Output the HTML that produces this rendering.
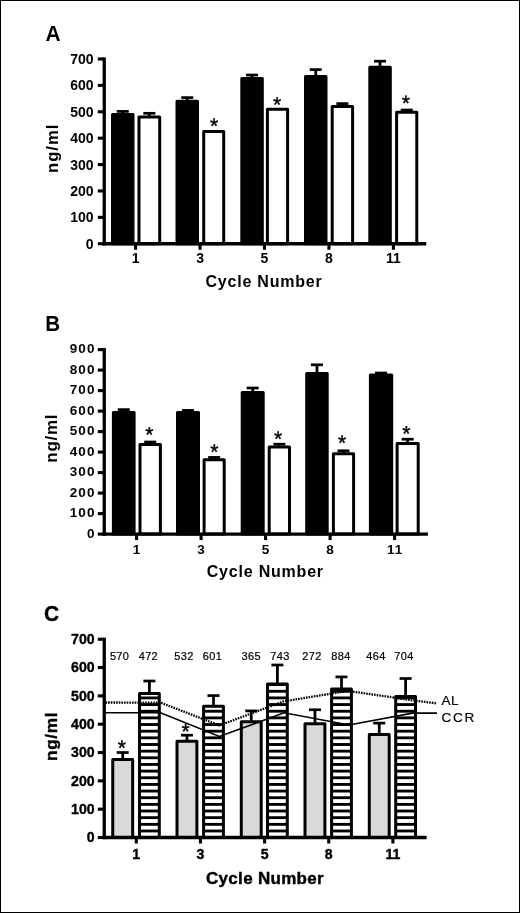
<!DOCTYPE html>
<html lang="en"><head><meta charset="utf-8"><title>Figure</title>
<style>html,body{margin:0;padding:0;background:#fff}body{width:520px;height:913px;overflow:hidden}svg{display:block}text{font-family:"Liberation Sans", sans-serif;fill:#000}#panelC text[font-weight="bold"]{stroke:#000;stroke-width:.4px}#panelC text[font-weight="normal"]{stroke:#000;stroke-width:.2px}</style></head><body>
<svg width="520" height="913" viewBox="0 0 520 913">
<defs><pattern id="hs" x="0" y="4.58" width="10" height="6.653" patternUnits="userSpaceOnUse"><rect x="0" y="0" width="10" height="2.85" fill="#000"/></pattern></defs>
<rect x="0" y="0" width="520" height="913" fill="#fff"/>
<rect x="0.5" y="0.5" width="519" height="912" fill="none" stroke="#000" stroke-width="1"/>
<g id="panelA">
<line x1="122.75" y1="111.4" x2="122.75" y2="114.1" stroke="#000" stroke-width="2.8" />
<line x1="116.75" y1="111.4" x2="128.75" y2="111.4" stroke="#000" stroke-width="2.7" />
<rect x="112.5" y="114.6" width="20.5" height="129.15" fill="#000" stroke="#000" stroke-width="3" stroke-linejoin="round"/>
<line x1="149.35" y1="113.3" x2="149.35" y2="116.6" stroke="#000" stroke-width="2.8" />
<line x1="143.35" y1="113.3" x2="155.35" y2="113.3" stroke="#000" stroke-width="2.7" />
<rect x="139" y="117.1" width="20.7" height="126.65" fill="#fff" stroke="#000" stroke-width="3" stroke-linejoin="round"/>
<line x1="187.25" y1="97.6" x2="187.25" y2="100.8" stroke="#000" stroke-width="2.8" />
<line x1="181.25" y1="97.6" x2="193.25" y2="97.6" stroke="#000" stroke-width="2.7" />
<rect x="177" y="101.3" width="20.5" height="142.45" fill="#000" stroke="#000" stroke-width="3" stroke-linejoin="round"/>
<rect x="203.7" y="131.5" width="20" height="112.25" fill="#fff" stroke="#000" stroke-width="3" stroke-linejoin="round"/>
<line x1="252.05" y1="75" x2="252.05" y2="77.9" stroke="#000" stroke-width="2.8" />
<line x1="246.05" y1="75" x2="258.05" y2="75" stroke="#000" stroke-width="2.7" />
<rect x="241.8" y="78.4" width="20.5" height="165.35" fill="#000" stroke="#000" stroke-width="3" stroke-linejoin="round"/>
<rect x="267.4" y="109.3" width="20.2" height="134.45" fill="#fff" stroke="#000" stroke-width="3" stroke-linejoin="round"/>
<line x1="315.75" y1="69.6" x2="315.75" y2="75.9" stroke="#000" stroke-width="2.8" />
<line x1="309.75" y1="69.6" x2="321.75" y2="69.6" stroke="#000" stroke-width="2.7" />
<rect x="305.5" y="76.4" width="20.5" height="167.35" fill="#000" stroke="#000" stroke-width="3" stroke-linejoin="round"/>
<line x1="342.4" y1="103.6" x2="342.4" y2="106" stroke="#000" stroke-width="2.8" />
<line x1="336.4" y1="103.6" x2="348.4" y2="103.6" stroke="#000" stroke-width="2.7" />
<rect x="332.2" y="106.5" width="20.4" height="137.25" fill="#fff" stroke="#000" stroke-width="3" stroke-linejoin="round"/>
<line x1="380.05" y1="61.2" x2="380.05" y2="66.7" stroke="#000" stroke-width="2.8" />
<line x1="374.05" y1="61.2" x2="386.05" y2="61.2" stroke="#000" stroke-width="2.7" />
<rect x="369.8" y="67.2" width="20.5" height="176.55" fill="#000" stroke="#000" stroke-width="3" stroke-linejoin="round"/>
<line x1="406.7" y1="110" x2="406.7" y2="111.7" stroke="#000" stroke-width="2.8" />
<line x1="400.7" y1="110" x2="412.7" y2="110" stroke="#000" stroke-width="2.7" />
<rect x="396.6" y="112.2" width="20.2" height="131.55" fill="#fff" stroke="#000" stroke-width="3" stroke-linejoin="round"/>
<text transform="translate(214.15,133.03) rotate(0.1)" font-size="21" text-anchor="middle" stroke="#000" stroke-width="0.4">*</text>
<text transform="translate(277.15,111.83) rotate(0.1)" font-size="21" text-anchor="middle" stroke="#000" stroke-width="0.4">*</text>
<text transform="translate(405.95,110.23) rotate(0.1)" font-size="21" text-anchor="middle" stroke="#000" stroke-width="0.4">*</text>
<line x1="104.25" y1="57.45" x2="104.25" y2="245.4" stroke="#000" stroke-width="3.3" />
<line x1="102.6" y1="243.75" x2="426.3" y2="243.75" stroke="#000" stroke-width="3.3" />
<line x1="97.8" y1="243.75" x2="104.25" y2="243.75" stroke="#000" stroke-width="3.1" />
<text x="93.6" y="248.75" font-size="14" font-weight="bold" text-anchor="end" >0</text>
<line x1="97.8" y1="217.36" x2="104.25" y2="217.36" stroke="#000" stroke-width="3.1" />
<text x="93.6" y="222.36" font-size="14" font-weight="bold" text-anchor="end" >100</text>
<line x1="97.8" y1="190.96" x2="104.25" y2="190.96" stroke="#000" stroke-width="3.1" />
<text x="93.6" y="195.96" font-size="14" font-weight="bold" text-anchor="end" >200</text>
<line x1="97.8" y1="164.57" x2="104.25" y2="164.57" stroke="#000" stroke-width="3.1" />
<text x="93.6" y="169.57" font-size="14" font-weight="bold" text-anchor="end" >300</text>
<line x1="97.8" y1="138.18" x2="104.25" y2="138.18" stroke="#000" stroke-width="3.1" />
<text x="93.6" y="143.18" font-size="14" font-weight="bold" text-anchor="end" >400</text>
<line x1="97.8" y1="111.79" x2="104.25" y2="111.79" stroke="#000" stroke-width="3.1" />
<text x="93.6" y="116.79" font-size="14" font-weight="bold" text-anchor="end" >500</text>
<line x1="97.8" y1="85.39" x2="104.25" y2="85.39" stroke="#000" stroke-width="3.1" />
<text x="93.6" y="90.39" font-size="14" font-weight="bold" text-anchor="end" >600</text>
<line x1="97.8" y1="59" x2="104.25" y2="59" stroke="#000" stroke-width="3.1" />
<text x="93.6" y="64" font-size="14" font-weight="bold" text-anchor="end" >700</text>
<line x1="135.6" y1="243.75" x2="135.6" y2="249.75" stroke="#000" stroke-width="3.1" />
<text x="135.6" y="263.4" font-size="14" font-weight="bold" text-anchor="middle" >1</text>
<line x1="200.05" y1="243.75" x2="200.05" y2="249.75" stroke="#000" stroke-width="3.1" />
<text x="200.05" y="263.4" font-size="14" font-weight="bold" text-anchor="middle" >3</text>
<line x1="264.5" y1="243.75" x2="264.5" y2="249.75" stroke="#000" stroke-width="3.1" />
<text x="264.5" y="263.4" font-size="14" font-weight="bold" text-anchor="middle" >5</text>
<line x1="328.95" y1="243.75" x2="328.95" y2="249.75" stroke="#000" stroke-width="3.1" />
<text x="328.95" y="263.4" font-size="14" font-weight="bold" text-anchor="middle" >8</text>
<line x1="393.4" y1="243.75" x2="393.4" y2="249.75" stroke="#000" stroke-width="3.1" />
<text x="393.4" y="263.4" font-size="14" font-weight="bold" text-anchor="middle" >11</text>
<text x="264" y="286.7" font-size="16" font-weight="bold" text-anchor="middle" letter-spacing="0.8" >Cycle Number</text>
<text transform="translate(57.5,148.3) rotate(-90)" font-size="16.7" font-weight="bold" text-anchor="middle" letter-spacing="0.95">ng/ml</text>
<text transform="translate(45.4,41.2) scale(0.93,1)" font-size="22.5" font-weight="bold">A</text>
</g>
<g id="panelB">
<line x1="123.75" y1="409.6" x2="123.75" y2="412.1" stroke="#000" stroke-width="2.8" />
<line x1="117.75" y1="409.6" x2="129.75" y2="409.6" stroke="#000" stroke-width="2.7" />
<rect x="113.4" y="412.6" width="20.7" height="121.5" fill="#000" stroke="#000" stroke-width="3" stroke-linejoin="round"/>
<line x1="150.2" y1="442" x2="150.2" y2="444.1" stroke="#000" stroke-width="2.8" />
<line x1="144.2" y1="442" x2="156.2" y2="442" stroke="#000" stroke-width="2.7" />
<rect x="140" y="444.6" width="20.4" height="89.5" fill="#fff" stroke="#000" stroke-width="3" stroke-linejoin="round"/>
<line x1="188" y1="410.4" x2="188" y2="412" stroke="#000" stroke-width="2.8" />
<line x1="182" y1="410.4" x2="194" y2="410.4" stroke="#000" stroke-width="2.7" />
<rect x="177.5" y="412.5" width="21" height="121.6" fill="#000" stroke="#000" stroke-width="3" stroke-linejoin="round"/>
<line x1="214.15" y1="457.4" x2="214.15" y2="459.2" stroke="#000" stroke-width="2.8" />
<line x1="208.15" y1="457.4" x2="220.15" y2="457.4" stroke="#000" stroke-width="2.7" />
<rect x="204.1" y="459.7" width="20.1" height="74.4" fill="#fff" stroke="#000" stroke-width="3" stroke-linejoin="round"/>
<line x1="252.7" y1="388" x2="252.7" y2="391.9" stroke="#000" stroke-width="2.8" />
<line x1="246.7" y1="388" x2="258.7" y2="388" stroke="#000" stroke-width="2.7" />
<rect x="242.2" y="392.4" width="21" height="141.7" fill="#000" stroke="#000" stroke-width="3" stroke-linejoin="round"/>
<line x1="279.35" y1="444.2" x2="279.35" y2="446.4" stroke="#000" stroke-width="2.8" />
<line x1="273.35" y1="444.2" x2="285.35" y2="444.2" stroke="#000" stroke-width="2.7" />
<rect x="269.2" y="446.9" width="20.3" height="87.2" fill="#fff" stroke="#000" stroke-width="3" stroke-linejoin="round"/>
<line x1="316.95" y1="364.8" x2="316.95" y2="372.9" stroke="#000" stroke-width="2.8" />
<line x1="310.95" y1="364.8" x2="322.95" y2="364.8" stroke="#000" stroke-width="2.7" />
<rect x="306.7" y="373.4" width="20.5" height="160.7" fill="#000" stroke="#000" stroke-width="3" stroke-linejoin="round"/>
<line x1="343.5" y1="450.75" x2="343.5" y2="453.3" stroke="#000" stroke-width="2.8" />
<line x1="337.5" y1="450.75" x2="349.5" y2="450.75" stroke="#000" stroke-width="2.7" />
<rect x="333.4" y="453.8" width="20.2" height="80.3" fill="#fff" stroke="#000" stroke-width="3" stroke-linejoin="round"/>
<line x1="381.05" y1="373" x2="381.05" y2="374.5" stroke="#000" stroke-width="2.8" />
<line x1="375.05" y1="373" x2="387.05" y2="373" stroke="#000" stroke-width="2.7" />
<rect x="370.4" y="375" width="21.3" height="159.1" fill="#000" stroke="#000" stroke-width="3" stroke-linejoin="round"/>
<line x1="407.65" y1="439.2" x2="407.65" y2="442.9" stroke="#000" stroke-width="2.8" />
<line x1="401.65" y1="439.2" x2="413.65" y2="439.2" stroke="#000" stroke-width="2.7" />
<rect x="397.1" y="443.4" width="21.1" height="90.7" fill="#fff" stroke="#000" stroke-width="3" stroke-linejoin="round"/>
<text transform="translate(149.45,441.67) rotate(0.1)" font-size="21" text-anchor="middle" stroke="#000" stroke-width="0.4">*</text>
<text transform="translate(214.25,459.07) rotate(0.1)" font-size="21" text-anchor="middle" stroke="#000" stroke-width="0.4">*</text>
<text transform="translate(278.15,446.02) rotate(0.1)" font-size="21" text-anchor="middle" stroke="#000" stroke-width="0.4">*</text>
<text transform="translate(342.15,449.92) rotate(0.1)" font-size="21" text-anchor="middle" stroke="#000" stroke-width="0.4">*</text>
<text transform="translate(406.25,440.72) rotate(0.1)" font-size="21" text-anchor="middle" stroke="#000" stroke-width="0.4">*</text>
<line x1="104.25" y1="348.05" x2="104.25" y2="535.75" stroke="#000" stroke-width="3.3" />
<line x1="102.6" y1="534.1" x2="427.9" y2="534.1" stroke="#000" stroke-width="3.3" />
<line x1="97.8" y1="534.1" x2="104.25" y2="534.1" stroke="#000" stroke-width="3.1" />
<text x="95.4" y="537.9" font-size="13.5" font-weight="bold" text-anchor="end" letter-spacing="1" >0</text>
<line x1="97.8" y1="513.6" x2="104.25" y2="513.6" stroke="#000" stroke-width="3.1" />
<text x="95.4" y="517.4" font-size="13.5" font-weight="bold" text-anchor="end" letter-spacing="1" >100</text>
<line x1="97.8" y1="493.1" x2="104.25" y2="493.1" stroke="#000" stroke-width="3.1" />
<text x="95.4" y="496.9" font-size="13.5" font-weight="bold" text-anchor="end" letter-spacing="1" >200</text>
<line x1="97.8" y1="472.6" x2="104.25" y2="472.6" stroke="#000" stroke-width="3.1" />
<text x="95.4" y="476.4" font-size="13.5" font-weight="bold" text-anchor="end" letter-spacing="1" >300</text>
<line x1="97.8" y1="452.1" x2="104.25" y2="452.1" stroke="#000" stroke-width="3.1" />
<text x="95.4" y="455.9" font-size="13.5" font-weight="bold" text-anchor="end" letter-spacing="1" >400</text>
<line x1="97.8" y1="431.6" x2="104.25" y2="431.6" stroke="#000" stroke-width="3.1" />
<text x="95.4" y="435.4" font-size="13.5" font-weight="bold" text-anchor="end" letter-spacing="1" >500</text>
<line x1="97.8" y1="411.1" x2="104.25" y2="411.1" stroke="#000" stroke-width="3.1" />
<text x="95.4" y="414.9" font-size="13.5" font-weight="bold" text-anchor="end" letter-spacing="1" >600</text>
<line x1="97.8" y1="390.6" x2="104.25" y2="390.6" stroke="#000" stroke-width="3.1" />
<text x="95.4" y="394.4" font-size="13.5" font-weight="bold" text-anchor="end" letter-spacing="1" >700</text>
<line x1="97.8" y1="370.1" x2="104.25" y2="370.1" stroke="#000" stroke-width="3.1" />
<text x="95.4" y="373.9" font-size="13.5" font-weight="bold" text-anchor="end" letter-spacing="1" >800</text>
<line x1="97.8" y1="349.6" x2="104.25" y2="349.6" stroke="#000" stroke-width="3.1" />
<text x="95.4" y="353.4" font-size="13.5" font-weight="bold" text-anchor="end" letter-spacing="1" >900</text>
<line x1="136.6" y1="534.1" x2="136.6" y2="540.1" stroke="#000" stroke-width="3.1" />
<text x="137.1" y="553.8" font-size="13.5" font-weight="bold" text-anchor="middle" letter-spacing="1" >1</text>
<line x1="201.1" y1="534.1" x2="201.1" y2="540.1" stroke="#000" stroke-width="3.1" />
<text x="201.6" y="553.8" font-size="13.5" font-weight="bold" text-anchor="middle" letter-spacing="1" >3</text>
<line x1="265.6" y1="534.1" x2="265.6" y2="540.1" stroke="#000" stroke-width="3.1" />
<text x="266.1" y="553.8" font-size="13.5" font-weight="bold" text-anchor="middle" letter-spacing="1" >5</text>
<line x1="330.1" y1="534.1" x2="330.1" y2="540.1" stroke="#000" stroke-width="3.1" />
<text x="330.6" y="553.8" font-size="13.5" font-weight="bold" text-anchor="middle" letter-spacing="1" >8</text>
<line x1="394.6" y1="534.1" x2="394.6" y2="540.1" stroke="#000" stroke-width="3.1" />
<text x="395.1" y="553.8" font-size="13.5" font-weight="bold" text-anchor="middle" letter-spacing="1" >11</text>
<text x="265.3" y="577" font-size="16" font-weight="bold" text-anchor="middle" letter-spacing="0.8" >Cycle Number</text>
<text transform="translate(56.8,438.2) rotate(-90)" font-size="17" font-weight="bold" text-anchor="middle" letter-spacing="0.75">ng/ml</text>
<text transform="translate(45.3,331.2) scale(0.94,1)" font-size="21.9" font-weight="bold">B</text>
</g>
<g id="panelC">
<line x1="122.7" y1="752.5" x2="122.7" y2="759.1" stroke="#000" stroke-width="2.8" />
<line x1="116.7" y1="752.5" x2="128.7" y2="752.5" stroke="#000" stroke-width="2.7" />
<rect x="112.75" y="759.6" width="19.9" height="77.9" fill="#d9d9d9" stroke="#000" stroke-width="3" stroke-linejoin="round"/>
<line x1="149.4" y1="681" x2="149.4" y2="692.9" stroke="#000" stroke-width="2.8" />
<line x1="143.4" y1="681" x2="155.4" y2="681" stroke="#000" stroke-width="2.7" />
<rect x="139.5" y="693.4" width="19.8" height="144.1" fill="url(#hs)" stroke="#000" stroke-width="3" stroke-linejoin="round"/>
<line x1="186.95" y1="735.2" x2="186.95" y2="740.8" stroke="#000" stroke-width="2.8" />
<line x1="180.95" y1="735.2" x2="192.95" y2="735.2" stroke="#000" stroke-width="2.7" />
<rect x="177" y="741.3" width="19.9" height="96.2" fill="#d9d9d9" stroke="#000" stroke-width="3" stroke-linejoin="round"/>
<line x1="213.5" y1="695.6" x2="213.5" y2="705.75" stroke="#000" stroke-width="2.8" />
<line x1="207.5" y1="695.6" x2="219.5" y2="695.6" stroke="#000" stroke-width="2.7" />
<rect x="203.6" y="706.25" width="19.8" height="131.25" fill="url(#hs)" stroke="#000" stroke-width="3" stroke-linejoin="round"/>
<line x1="251.25" y1="710.9" x2="251.25" y2="721.2" stroke="#000" stroke-width="2.8" />
<line x1="245.25" y1="710.9" x2="257.25" y2="710.9" stroke="#000" stroke-width="2.7" />
<rect x="241.3" y="721.7" width="19.9" height="115.8" fill="#d9d9d9" stroke="#000" stroke-width="3" stroke-linejoin="round"/>
<line x1="277.4" y1="665" x2="277.4" y2="683.5" stroke="#000" stroke-width="2.8" />
<line x1="271.4" y1="665" x2="283.4" y2="665" stroke="#000" stroke-width="2.7" />
<rect x="267.5" y="684" width="19.8" height="153.5" fill="url(#hs)" stroke="#000" stroke-width="3" stroke-linejoin="round"/>
<line x1="314.95" y1="709.75" x2="314.95" y2="723.3" stroke="#000" stroke-width="2.8" />
<line x1="308.95" y1="709.75" x2="320.95" y2="709.75" stroke="#000" stroke-width="2.7" />
<rect x="305" y="723.8" width="19.9" height="113.7" fill="#d9d9d9" stroke="#000" stroke-width="3" stroke-linejoin="round"/>
<line x1="341.5" y1="676.9" x2="341.5" y2="688.5" stroke="#000" stroke-width="2.8" />
<line x1="335.5" y1="676.9" x2="347.5" y2="676.9" stroke="#000" stroke-width="2.7" />
<rect x="331.6" y="689" width="19.8" height="148.5" fill="url(#hs)" stroke="#000" stroke-width="3" stroke-linejoin="round"/>
<line x1="379.25" y1="723.1" x2="379.25" y2="734.1" stroke="#000" stroke-width="2.8" />
<line x1="373.25" y1="723.1" x2="385.25" y2="723.1" stroke="#000" stroke-width="2.7" />
<rect x="369.3" y="734.6" width="19.9" height="102.9" fill="#d9d9d9" stroke="#000" stroke-width="3" stroke-linejoin="round"/>
<line x1="405.6" y1="678.5" x2="405.6" y2="696" stroke="#000" stroke-width="2.8" />
<line x1="399.6" y1="678.5" x2="411.6" y2="678.5" stroke="#000" stroke-width="2.7" />
<rect x="395.7" y="696.5" width="19.8" height="141" fill="url(#hs)" stroke="#000" stroke-width="3" stroke-linejoin="round"/>
<text transform="translate(121.95,755.12) rotate(0.1)" font-size="21" text-anchor="middle" stroke="#000" stroke-width="0.4">*</text>
<text transform="translate(185.65,738.42) rotate(0.1)" font-size="21" text-anchor="middle" stroke="#000" stroke-width="0.4">*</text>
<polyline fill="none" stroke="#000" stroke-width="2.3" stroke-dasharray="1.6 1.05" points="105.5,702.5 160.5,702.6 219.4,725.4 283.5,701.4 348,690.9 412.5,700.3 437,703.4"/>
<polyline fill="none" stroke="#000" stroke-width="1.6" points="105.5,712.7 160.5,712.7 219.4,736.5 284,712.8 349,725 412.5,713.1 437,713.1"/>
<text x="441.5" y="705.3" font-size="13.5" font-weight="normal" text-anchor="start" letter-spacing="0.4" >AL</text>
<text x="441.5" y="722.4" font-size="13.5" font-weight="normal" text-anchor="start" letter-spacing="1.7" >CCR</text>
<text x="119.6" y="660.1" font-size="11" font-weight="normal" text-anchor="middle" letter-spacing="0.3" >570</text>
<text x="148.4" y="660.1" font-size="11" font-weight="normal" text-anchor="middle" letter-spacing="0.3" >472</text>
<text x="184" y="660.1" font-size="11" font-weight="normal" text-anchor="middle" letter-spacing="0.3" >532</text>
<text x="212.5" y="660.1" font-size="11" font-weight="normal" text-anchor="middle" letter-spacing="0.3" >601</text>
<text x="251.2" y="660.1" font-size="11" font-weight="normal" text-anchor="middle" letter-spacing="0.3" >365</text>
<text x="280" y="660.1" font-size="11" font-weight="normal" text-anchor="middle" letter-spacing="0.3" >743</text>
<text x="312" y="660.1" font-size="11" font-weight="normal" text-anchor="middle" letter-spacing="0.3" >272</text>
<text x="341" y="660.1" font-size="11" font-weight="normal" text-anchor="middle" letter-spacing="0.3" >884</text>
<text x="376" y="660.1" font-size="11" font-weight="normal" text-anchor="middle" letter-spacing="0.3" >464</text>
<text x="404" y="660.1" font-size="11" font-weight="normal" text-anchor="middle" letter-spacing="0.3" >704</text>
<line x1="104.25" y1="637.7" x2="104.25" y2="839.15" stroke="#000" stroke-width="3.3" />
<line x1="102.6" y1="837.5" x2="426.6" y2="837.5" stroke="#000" stroke-width="3.3" />
<line x1="97.8" y1="837.5" x2="104.25" y2="837.5" stroke="#000" stroke-width="3.1" />
<text transform="translate(94.6,842.2) scale(0.93,1)" font-size="15.2" font-weight="bold" text-anchor="end">0</text>
<line x1="97.8" y1="809.18" x2="104.25" y2="809.18" stroke="#000" stroke-width="3.1" />
<text transform="translate(94.6,813.88) scale(0.93,1)" font-size="15.2" font-weight="bold" text-anchor="end">100</text>
<line x1="97.8" y1="780.86" x2="104.25" y2="780.86" stroke="#000" stroke-width="3.1" />
<text transform="translate(94.6,785.56) scale(0.93,1)" font-size="15.2" font-weight="bold" text-anchor="end">200</text>
<line x1="97.8" y1="752.54" x2="104.25" y2="752.54" stroke="#000" stroke-width="3.1" />
<text transform="translate(94.6,757.24) scale(0.93,1)" font-size="15.2" font-weight="bold" text-anchor="end">300</text>
<line x1="97.8" y1="724.21" x2="104.25" y2="724.21" stroke="#000" stroke-width="3.1" />
<text transform="translate(94.6,728.91) scale(0.93,1)" font-size="15.2" font-weight="bold" text-anchor="end">400</text>
<line x1="97.8" y1="695.89" x2="104.25" y2="695.89" stroke="#000" stroke-width="3.1" />
<text transform="translate(94.6,700.59) scale(0.93,1)" font-size="15.2" font-weight="bold" text-anchor="end">500</text>
<line x1="97.8" y1="667.57" x2="104.25" y2="667.57" stroke="#000" stroke-width="3.1" />
<text transform="translate(94.6,672.27) scale(0.93,1)" font-size="15.2" font-weight="bold" text-anchor="end">600</text>
<line x1="97.8" y1="639.25" x2="104.25" y2="639.25" stroke="#000" stroke-width="3.1" />
<text transform="translate(94.6,643.95) scale(0.93,1)" font-size="15.2" font-weight="bold" text-anchor="end">700</text>
<line x1="136.3" y1="837.5" x2="136.3" y2="843.5" stroke="#000" stroke-width="3.1" />
<text transform="translate(136.3,858.8) scale(0.93,1)" font-size="15.2" font-weight="bold" text-anchor="middle">1</text>
<line x1="200.45" y1="837.5" x2="200.45" y2="843.5" stroke="#000" stroke-width="3.1" />
<text transform="translate(200.45,858.8) scale(0.93,1)" font-size="15.2" font-weight="bold" text-anchor="middle">3</text>
<line x1="264.6" y1="837.5" x2="264.6" y2="843.5" stroke="#000" stroke-width="3.1" />
<text transform="translate(264.6,858.8) scale(0.93,1)" font-size="15.2" font-weight="bold" text-anchor="middle">5</text>
<line x1="328.75" y1="837.5" x2="328.75" y2="843.5" stroke="#000" stroke-width="3.1" />
<text transform="translate(328.75,858.8) scale(0.93,1)" font-size="15.2" font-weight="bold" text-anchor="middle">8</text>
<line x1="392.9" y1="837.5" x2="392.9" y2="843.5" stroke="#000" stroke-width="3.1" />
<text transform="translate(392.9,858.8) scale(0.93,1)" font-size="15.2" font-weight="bold" text-anchor="middle">11</text>
<text x="265" y="883.6" font-size="17" font-weight="bold" text-anchor="middle" letter-spacing="0.3" >Cycle Number</text>
<text transform="translate(57.2,736.4) rotate(-90)" font-size="17.3" font-weight="bold" text-anchor="middle" letter-spacing="0.6">ng/ml</text>
<text transform="translate(44,620.6) scale(0.92,1)" font-size="22.8" font-weight="bold">C</text>
</g>
</svg></body></html>
